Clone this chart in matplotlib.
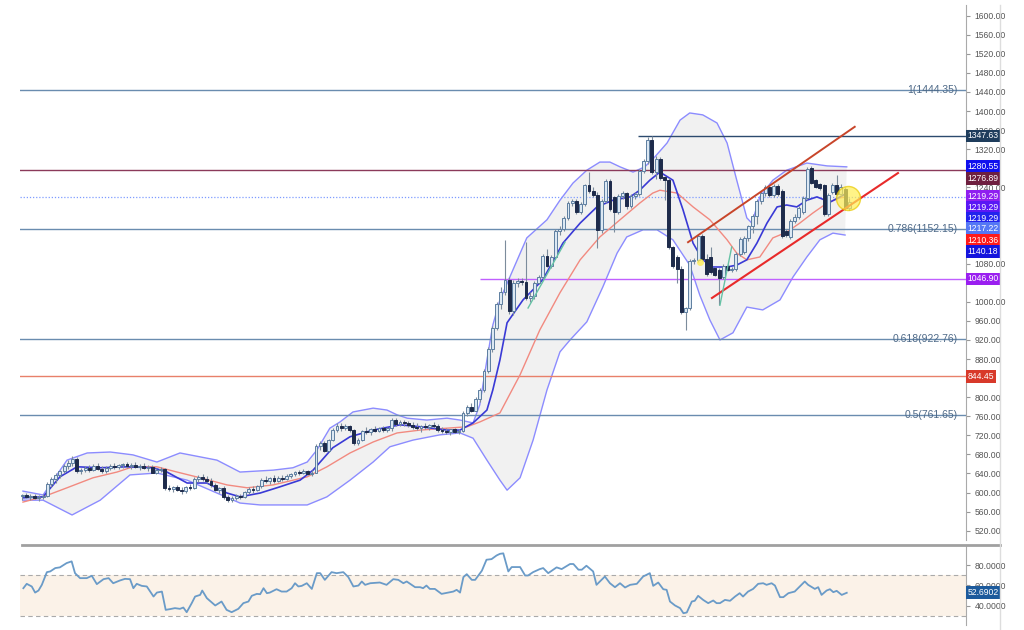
import numpy as np
import matplotlib.pyplot as plt
from matplotlib.lines import Line2D

plt.rcParams['font.family'] = ['Liberation Sans', 'DejaVu Sans']

# candles (one per bar)
opens = [592,595,590,593,588,590,592,618,628,636,
         645,655,662,670,645,648,652,648,656,650,
         645,652,656,654,657,660,655,658,654,656,
         651,654,642,648,650,610,608,612,606,603,
         612,609,628,632,628,624,615,606,610,590,
         584,588,592,590,602,608,605,614,627,624,
         630,625,631,628,635,638,644,640,646,638,
         642,698,704,688,710,732,740,736,740,732,
         704,710,730,726,733,730,735,732,736,752,
         744,748,745,742,738,736,740,738,742,740,
         732,730,728,733,728,730,766,780,772,796,
         815,855,900,945,995,1020,1046,980,1040,1044,
         1042,1008,1012,1040,1052,1096,1076,1094,1148,1152,
         1176,1208,1212,1188,1206,1244,1232,1224,1150,1212,
         1254,1220,1188,1222,1228,1200,1222,1226,1274,1296,
         1340,1272,1300,1262,1256,1115,1094,1068,978,986,
         1086,1088,1138,1090,1094,1071,1066,1052,1076,1066,
         1068,1100,1104,1134,1158,1180,1212,1228,1240,1224,
         1242,1232,1148,1136,1170,1178,1188,1218,1280,1256,
         1248,1244,1184,1230,1244,1226,1236,1196]
highs = [598,600,596,597,594,596,622,632,640,648,
         660,668,676,674,652,656,658,660,662,656,
         655,660,662,660,663,664,662,664,660,662,
         658,658,652,654,652,616,614,616,612,614,
         618,632,636,638,634,630,620,612,614,594,
         592,596,598,604,612,614,616,630,634,632,
         636,634,636,638,642,646,648,650,648,648,
         702,708,708,712,735,746,746,744,742,734,
         714,732,738,736,740,738,740,738,756,756,
         752,752,750,748,746,742,746,744,748,744,
         738,736,734,736,734,770,784,788,800,820,
         860,905,950,1000,1030,1130,1052,1046,1050,1050,
         1126,1020,1044,1056,1100,1110,1098,1152,1158,1180,
         1212,1216,1216,1210,1248,1272,1240,1230,1216,1258,
         1258,1222,1226,1232,1230,1226,1230,1278,1300,1346,
         1348,1305,1304,1264,1260,1118,1098,1076,990,1090,
         1092,1142,1142,1100,1115,1074,1070,1080,1080,1072,
         1104,1136,1138,1162,1184,1216,1232,1244,1242,1246,
         1246,1236,1152,1174,1184,1200,1222,1282,1284,1258,
         1250,1248,1228,1250,1266,1246,1240,1218]
lows = [585,588,584,586,583,586,590,612,620,630,
        640,650,655,640,638,643,644,646,648,640,
        642,648,650,649,652,652,650,652,648,650,
        646,640,638,644,606,604,602,604,598,600,
        606,607,622,624,620,612,604,600,586,580,
        580,584,586,588,598,600,603,610,620,618,
        620,622,624,626,630,634,636,638,636,634,
        640,690,684,686,708,728,730,732,728,700,
        700,708,722,720,726,726,728,726,730,740,
        740,740,738,734,732,728,734,732,736,728,
        724,722,720,724,722,728,760,768,770,790,
        810,850,895,940,985,1015,975,972,1030,1036,
        1004,1000,1006,1038,1048,1072,1070,1090,1140,1148,
        1172,1200,1184,1184,1200,1228,1220,1113,1144,1208,
        1190,1146,1184,1216,1195,1196,1216,1222,1270,1290,
        1268,1258,1256,1214,1110,1070,1040,975,940,982,
        1080,1084,1086,1054,1058,1054,993,1048,1064,1062,
        1064,1096,1100,1128,1144,1164,1206,1222,1220,1220,
        1222,1134,1136,1132,1166,1174,1184,1214,1246,1238,
        1234,1180,1180,1226,1222,1222,1192,1192]
closes = [595,590,593,588,590,592,618,628,636,645,
          655,662,670,645,648,652,648,656,650,645,
          652,656,654,657,660,655,658,654,656,651,
          654,642,648,650,610,608,612,606,603,612,
          609,628,632,628,624,615,606,610,590,584,
          588,592,590,602,608,605,614,627,624,630,
          625,631,628,635,638,644,640,646,638,642,
          698,704,688,710,732,740,736,740,732,704,
          710,730,726,733,730,735,732,736,752,744,
          748,745,742,738,736,740,738,742,740,732,
          730,728,733,728,730,766,780,772,796,815,
          855,900,945,995,1020,1046,980,1040,1044,1042,
          1008,1012,1040,1052,1096,1076,1094,1148,1152,1176,
          1208,1212,1188,1206,1244,1232,1224,1150,1212,1254,
          1194,1188,1222,1228,1200,1222,1226,1274,1296,1340,
          1272,1300,1260,1256,1115,1075,1068,978,986,1086,
          1088,1138,1090,1058,1062,1056,1050,1076,1066,1068,
          1100,1132,1134,1158,1180,1212,1228,1240,1224,1242,
          1226,1138,1140,1170,1178,1196,1218,1278,1250,1240,
          1238,1184,1224,1244,1226,1240,1196,1210]

# bollinger bands / moving averages (bar index, price)
upper_x = [0.2,5,10.7,15.5,21,26.4,32.1,37.6,46.4,51.9,59.8,64.5,67.9,70.2,73.3,
           75.7,78.8,83.6,86.9,89.3,91.7,96.4,101.2,104.3,107.4,109,110.7,112.1,113.8,116.9,
           120.2,125,128.1,131.2,134.5,137.6,140,142.4,145.5,148.3,150.7,153.6,156.7,159,162.1,
           165.5,167.9,170.2,172.6,173.8,175.7,178.8,182.1,186.9,191.7,196.4]
upper_y = [603,595,668,683,685,679,664,683,668,643,647,652,664,689,735,
           748,769,777,773,763,756,752,756,752,746,784,878,951,1004,1067,
           1134,1172,1213,1249,1276,1293,1293,1283,1272,1283,1304,1333,1381,1396,1392,
           1375,1333,1255,1176,1165,1220,1255,1276,1291,1285,1283]
lower_x = [0.2,5,11.9,18.6,25.7,32.1,39.3,46.4,51.9,56.7,67.9,72.6,78.1,83.6,87.6,
           93.1,99.5,104.3,107.4,110.7,113.8,115.5,118.6,121.7,125,128.1,130.5,134.5,138.3,141.7,
           144,147.9,151.2,155,159,161.4,163.8,166.2,169.3,172.6,176.4,180.5,183.6,186.9,190,
           193.1,196]
lower_y = [584,584,553,584,637,641,626,599,578,574,574,591,626,664,696,
           710,721,725,714,668,626,605,631,710,815,895,920,958,1031,1102,
           1136,1151,1151,1130,1077,1014,962,920,935,989,983,1004,1052,1094,1130,
           1144,1140]
ma20_x = [0.2,5,10.7,16.9,22.6,26.4,32.1,36.9,42.4,48.8,53.6,59.8,67.9,72.6,78.1,
          83.6,89.3,94.8,101.2,106,109,113.8,118.6,123.3,128.1,132.9,137.6,142.4,147.1,150.2,
          151.9,156,159.8,163.8,167.9,170.2,172.6,175.7,178.8,182.1,185.2,188.3,191.7,194.8,196.4]
ma20_y = [580,591,610,631,643,654,654,643,631,616,610,616,633,654,683,
          706,725,731,735,738,748,767,847,941,1019,1088,1136,1172,1207,1228,
          1234,1228,1199,1172,1130,1102,1088,1094,1134,1146,1165,1186,1207,1218,1220]
ma5_x = [0.2,5,9,13.1,18.6,25,31.2,34.5,39.3,44,48.8,51.9,56.7,61.4,66.2,
         69.3,74,78.1,83.6,90,94.8,101.2,104.3,107.4,110.7,112.1,113.8,115.5,119.3,124,
         128.8,132.9,136.9,140.7,144.8,147.1,149.5,151.9,155,157.4,159.8,162.1,164.5,167.9,170.2,
         172.6,175,177.4,179.8,182.1,184.5,186.9,189.3,192.4,194.8,196.4]
ma5_y = [589,591,633,654,652,654,652,643,620,620,599,591,599,612,626,
         647,694,717,731,742,738,731,731,746,773,815,878,956,1004,1046,
         1123,1165,1199,1213,1220,1234,1255,1272,1255,1193,1123,1088,1073,1073,1077,
         1088,1123,1165,1199,1203,1199,1213,1220,1209,1220,1228]

# RSI
rsi_x = [0.3,1.1,2.3,3.1,3.9,4.7,5.9,6.7,7.9,9.0,10.6,11.8,12.6,13.8,15.4,16.6,17.8,19.4,20.6,21.7,
         23.3,24.5,25.7,26.5,27.3,28.5,29.7,31.3,32.1,33.3,34.2,35.2,36.4,37.6,38.4,39.2,40.4,41.2,42.4,42.9,
         44.0,46.0,47.5,48.7,49.9,51.5,52.7,53.9,54.7,55.9,56.7,57.5,58.3,59.0,60.6,61.8,63.0,64.2,65.0,65.8,
         66.6,67.8,69.0,70.2,71.0,72.1,73.7,74.9,76.5,77.7,78.9,80.1,80.9,81.7,82.9,85.2,86.8,88.4,89.6,90.8,
         91.6,93.6,94.8,95.5,96.3,97.1,98.3,99.9,101.5,102.7,103.5,104.3,105.1,105.9,107.1,107.9,109.5,110.6,111.8,113.0,
         113.8,114.6,115.8,116.6,118.6,119.8,120.5,121.7,123.3,124.1,125.3,127.3,128.5,130.5,131.3,132.5,133.3,134.4,136.0,136.8,
         138.0,138.8,140.0,141.2,142.4,143.6,144.8,146.4,147.9,149.5,150.3,151.5,152.7,153.5,154.3,155.5,156.7,157.5,158.3,159.5,
         160.2,161.0,162.2,163.4,164.6,165.4,166.2,167.4,168.6,169.8,170.9,171.7,172.9,174.1,175.3,176.5,177.3,178.5,179.3,180.5,
         181.3,182.5,184.0,185.2,186.4,187.2,188.8,189.6,190.4,191.6,192.4,193.2,194.0,195.2,196.4]
rsi_y = [57.2,61.5,58.9,52.9,54.9,60.5,73.0,73.7,77.0,77.7,81.9,83.6,72.0,67.1,67.1,69.4,61.2,66.1,67.1,62.1,
         64.8,66.4,66.1,57.2,61.5,59.5,58.9,49.0,52.9,53.9,35.9,36.6,37.6,36.9,38.2,33.6,42.5,49.0,50.6,54.9,
         47.4,40.2,44.1,35.9,33.6,36.9,42.5,44.1,49.7,51.6,51.3,57.2,52.3,52.9,56.2,53.9,53.9,57.2,62.1,58.9,
         59.5,62.1,56.5,72.0,72.0,65.4,73.0,72.0,73.0,68.1,58.9,59.8,63.8,60.5,62.1,62.8,60.5,66.1,65.4,62.1,
         63.8,58.2,58.2,57.2,59.8,56.5,56.5,51.6,52.9,53.9,55.6,52.9,68.1,71.0,65.4,65.4,74.4,85.2,85.8,89.4,
         91.0,91.5,73.7,78.0,78.0,69.7,69.7,73.0,76.0,77.0,72.0,77.7,76.0,81.0,81.0,75.4,75.4,79.3,73.7,60.5,
         65.4,68.7,62.1,58.2,62.1,57.9,60.5,61.5,68.7,72.0,59.5,62.8,56.2,55.6,44.1,40.2,37.6,32.6,33.3,44.1,
         44.8,49.7,45.7,42.5,45.1,42.5,42.5,45.7,44.8,49.0,52.3,49.0,53.9,56.5,61.5,62.1,60.5,62.1,59.8,48.4,
         48.4,52.3,53.9,58.9,63.8,60.5,56.5,58.2,50.6,54.9,56.2,53.3,54.6,50.6,52.69]

fib_levels = [1444.35, 1152.15, 922.76, 761.65]
fib_names = ['1(1444.35)', '0.786(1152.15)', '0.618(922.76)', '0.5(761.65)']

tags = [  # label, shown at, box colour
    ('1347.63', 1347.7, '#1f3d5c'),
    ('1280.55', 1283, '#1010ee'),
    ('1276.89', 1258, '#6e1f3f'),
    ('1219.29', 1220, '#8f1ff0'),
    ('1219.29', 1197, '#5a17f5'),
    ('1219.29', 1174, '#2222ee'),
    ('1217.22', 1153, '#5577f5'),
    ('1210.36', 1128, '#ff1a1a'),
    ('1140.18', 1105, '#1515dd'),
    ('1046.90', 1048, '#9a1ff0'),
    ('844.45', 844, '#d8392a'),
]
# price ticks that sit under the tags
hidden_ticks = [1280, 1200, 1160, 1120, 1040, 840]

fig = plt.figure(figsize=(10.24, 6.3), dpi=100)
ax = fig.add_axes([20/1024, 1-540/630, 946/1024, 535/630])
ax2 = fig.add_axes([20/1024, 1-625/630, 946/1024, 80/630])

idx = np.arange(len(closes))
o = np.array(opens); c = np.array(closes)
up = c >= o

# bollinger fill + lines
ax.fill(np.r_[upper_x, lower_x[::-1]], np.r_[upper_y, lower_y[::-1]],
        color='#f1f1f1', lw=0, zorder=0)
ax.plot(upper_x, upper_y, color='#8c8cff', lw=1, zorder=1)
ax.plot(lower_x, lower_y, color='#8c8cff', lw=1, zorder=1)

# levels
for lv in fib_levels:
    ax.axhline(lv, color='#6a8caf', lw=1, zorder=1)
for lv, nm in zip(fib_levels, fib_names):
    ax.text(0.9915, lv, nm, transform=ax.get_yaxis_transform(), ha='right', va='center',
            fontsize=7.5, color='#4f6a88', zorder=5)
ax.axhline(1276.89, color='#8b3a5a', lw=1, zorder=1)
ax.axhline(1219.29, color='#7f9cff', lw=0.9, ls=(0, (1, 1.5)), zorder=1)
ax.axhline(844.45, color='#e8806a', lw=1, zorder=1)
ax.hlines(1347.63, 146.7, 224.8, color='#2c4a6e', lw=1, zorder=1)
ax.hlines(1046.90, 109, 224.8, color='#c060ff', lw=1, zorder=1)

# moving averages
ax.plot(ma20_x, ma20_y, color='#f28a80', lw=1, zorder=2)
ax.plot(ma5_x, ma5_y, color='#3a3ad6', lw=1.2, zorder=2)

# candles
ax.vlines(idx, lows, highs, color='#7c8c9c', lw=0.8, zorder=3)
ax.bar(idx[up], (c - o)[up], bottom=o[up], width=0.68, color='#dce8f3',
       edgecolor='#5d7ea0', lw=0.7, zorder=4)
ax.bar(idx[~up], (c - o)[~up], bottom=o[~up], width=0.68, color='#1e2b4b',
       edgecolor='#1e2b4b', lw=0.7, zorder=4)

# drawings
ax.plot([158.6, 198.3], [1125, 1367], color='#c8452a', lw=1.4, zorder=5)
ax.plot([164.3, 208.6], [1008, 1270], color='#e82a2a', lw=1.5, zorder=5)
ax.plot([120.5, 129.3], [987, 1125], color='#66c2a5', lw=1, zorder=5)
ax.plot([166.2, 169.0], [993, 1115], color='#66c2a5', lw=1, zorder=5)
ax.scatter([196.7], [1218], s=300, color='#ffee55', alpha=0.7, edgecolor='#e8c800', lw=1, zorder=6)
ax.scatter([161.4], [1084], s=25, color='#ffee55', alpha=0.8, lw=0, zorder=6)

ax.set_xlim(-0.5, 224.8)
ax.set_ylim(500.5, 1622.4)
ax.yaxis.tick_right()
ticks = np.arange(520, 1601, 40)
ax.set_yticks(ticks)
ax.set_yticklabels(['' if t in hidden_ticks else '%.2f' % t for t in ticks])
ax.tick_params(axis='y', direction='out', length=3, pad=3, labelsize=6.2,
               labelcolor='#555555', color='#999999')
ax.set_xticks([])
for s in ['top', 'left', 'bottom']:
    ax.spines[s].set_visible(False)
ax.spines['right'].set_color('#aaaaaa')

for txt, yv, col in tags:
    ax.text(1.0015, yv, txt, transform=ax.get_yaxis_transform(), ha='left', va='center',
            fontsize=6.2, color='white', clip_on=False, zorder=10,
            bbox=dict(boxstyle='square,pad=0.22', fc=col, ec='none'))

# RSI pane
ax2.axhspan(30, 70, color='#fbf2e8', lw=0, zorder=0)
ax2.axhline(70, color='#aaaaaa', lw=0.8, ls=(0, (4, 3)), zorder=1)
ax2.axhline(30, color='#aaaaaa', lw=0.8, ls=(0, (4, 3)), zorder=1)
ax2.plot(rsi_x, rsi_y, color='#6a9bc8', lw=1.3, zorder=2)
ax2.set_xlim(-0.5, 224.8)
ax2.set_ylim(21.0, 99.7)
ax2.yaxis.tick_right()
ax2.set_yticks([40, 60, 80])
ax2.set_yticklabels(['40.0000', '60.0000', '80.0000'])
ax2.tick_params(axis='y', direction='out', length=3, pad=3, labelsize=6.2,
                labelcolor='#555555', color='#999999')
ax2.set_xticks([])
for s in ['top', 'left', 'bottom']:
    ax2.spines[s].set_visible(False)
ax2.spines['right'].set_color('#aaaaaa')
ax2.text(1.0015, rsi_y[-1], '52.6902', transform=ax2.get_yaxis_transform(), ha='left',
         va='center', fontsize=6.2, color='white', clip_on=False, zorder=10,
         bbox=dict(boxstyle='square,pad=0.22', fc='#1c5a9c', ec='none'))

# separator and right border
fig.add_artist(Line2D([22/1024, 1000/1024], [1-545/630, 1-545/630], color='#a0a0a0', lw=2))
fig.add_artist(Line2D([1000/1024, 1000/1024], [1-5/630, 0], color='#dddddd', lw=1))

fig.savefig('out.png', dpi=100, facecolor='white')
